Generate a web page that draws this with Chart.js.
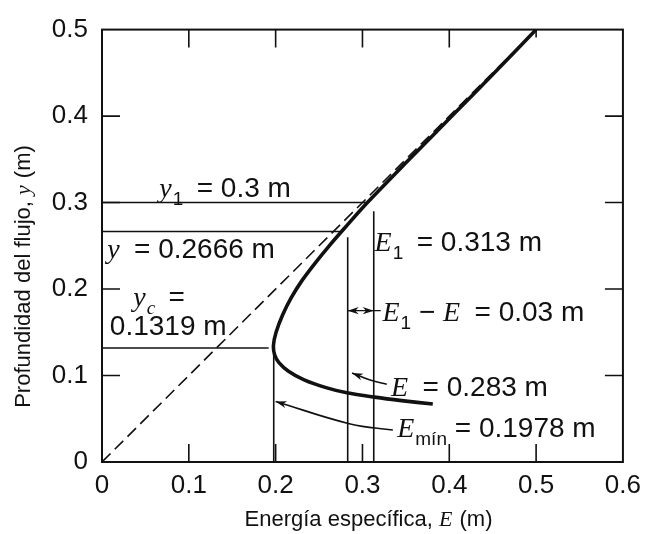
<!DOCTYPE html>
<html>
<head>
<meta charset="utf-8">
<script src="https://cdn.jsdelivr.net/npm/chart.js@4.4.0/dist/chart.umd.min.js"></script>
<style>
  html, body { margin: 0; padding: 0; background: #fff; }
  #wrap { width: 649px; height: 534px; }
</style>
</head>
<body>
<div id="wrap"><canvas id="c" width="649" height="534"></canvas></div>
<script>
const xTicks      = [0, 0.1, 0.2, 0.3, 0.4, 0.5, 0.6]
const xTickLabels = ['0', '0.1', '0.2', '0.3', '0.4', '0.5', '0.6']
const yTicks      = [0, 0.1, 0.2, 0.3, 0.4, 0.5]
const yTickLabels = ['0', '0.1', '0.2', '0.3', '0.4', '0.5']

// curva E(y) (rama inferior -> rama superior)
const curveE = [0.381, 0.345, 0.314, 0.282, 0.258, 0.2328, 0.2148, 0.2038, 0.1988, 0.1975, 0.2005, 0.208, 0.218, 0.2305, 0.2455, 0.2617, 0.279, 0.3057, 0.354, 0.403, 0.452, 0.5]
const curveY = [0.067, 0.071, 0.075, 0.080, 0.086, 0.095, 0.105, 0.115, 0.124, 0.135, 0.15, 0.17, 0.19, 0.21, 0.23, 0.25, 0.27, 0.3, 0.35, 0.4, 0.45, 0.5]

// recta E = y
const diagE = [0, 0.5]
const diagY = [0, 0.5]

// niveles horizontales y1, y, yc
const levelY   = [0.3, 0.2666, 0.1319]
const levelEnd = [0.306, 0.275, 0.192]

// verticales E1, E, Emin
const dropE   = [0.313, 0.283, 0.1978]
const dropTop = [0.29, 0.26, 0.125]

// flechas
const eminArrowE = [0.335, 0.286, 0.2]
const eminArrowY = [0.037, 0.044, 0.07]
const eArrowE    = [0.328, 0.308, 0.288]
const eArrowY    = [0.09, 0.095, 0.103]
const gapE       = [0.283, 0.313]
const gapTailE   = [0.313, 0.321]
const gapY       = 0.175

const SANS = '"Liberation Sans", Arial, sans-serif'
const SERIF = '"Liberation Serif", "Times New Roman", serif'

const pts = (xs, ys) => xs.map((x, i) => ({ x, y: ys[i] }))
const line = (data, extra) => Object.assign({
  data, showLine: true, pointRadius: 0, borderColor: '#111', borderWidth: 1.6, tension: 0
}, extra)

const datasets = [
  line(pts(curveE, curveY), { borderWidth: 3.6, tension: 0.3 }),
  line(pts(diagE, diagY), { borderWidth: 1.6, borderDash: [12, 6] }),
  ...levelY.map((y, i) => line([{ x: 0, y }, { x: levelEnd[i], y }])),
  ...dropE.map((x, i) => line([{ x, y: 0 }, { x, y: dropTop[i] }])),
  line(pts(eminArrowE, eminArrowY), { tension: 0.4, arrow: 'end' }),
  line(pts(eArrowE, eArrowY), { tension: 0.4, arrow: 'end' }),
  line(gapE.map(x => ({ x, y: gapY })), { borderWidth: 1.2, arrow: 'both' }),
  line(gapTailE.map(x => ({ x, y: gapY })), { borderWidth: 1.4 })
]

// etiquetas: trozos de texto con fuente sans o cursiva matematica
const it = t => ({ t, f: 'it' })
const sb = (t, f) => ({ t, f: f || 'sans', sub: true })
const tx = t => ({ t, f: 'sans' })
const EQ = '\u2009 = '
const notes = [
  { x: 0.066, y: 0.318, runs: [it('y'), sb('1'), tx(EQ + '0.3 m')] },
  { x: 0.006, y: 0.247, runs: [it('y'), tx(EQ + '0.2666 m')] },
  { x: 0.036, y: 0.192, runs: [it('y'), sb('c', 'it'), tx(EQ.trimEnd())] },
  { x: 0.009, y: 0.158, runs: [tx('0.1319 m')] },
  { x: 0.314, y: 0.255, runs: [it('E'), sb('1'), tx(EQ + '0.313 m')] },
  { x: 0.323, y: 0.175, runs: [it('E'), sb('1'), tx(' \u2212 '), it('E'), tx(EQ + '0.03 m')] },
  { x: 0.333, y: 0.088, runs: [it('E'), tx(EQ + '0.283 m')] },
  { x: 0.34,  y: 0.04,  runs: [it('E'), sb('mín'), tx(' = 0.1978 m')] }
]

function runFont(r, size) {
  const s = r.sub ? Math.round(size * 0.68) : size
  return r.f === 'it' ? `italic ${s}px ${SERIF}` : `${s}px ${SANS}`
}

function drawRuns(ctx, runs, x, y, size) {
  let cx = x
  runs.forEach(r => {
    ctx.font = runFont(r, size)
    ctx.fillText(r.t, cx, r.sub ? y + size * 0.28 : y)
    cx += ctx.measureText(r.t).width + (r.f === 'it' && !r.sub ? 1 : 0)
  })
  return cx - x
}

function runsWidth(ctx, runs, size) {
  return runs.reduce((w, r) => { ctx.font = runFont(r, size); return w + ctx.measureText(r.t).width }, 0)
}

const framePlugin = {
  id: 'frame',
  afterDatasetsDraw(chart) {
    const { ctx, chartArea: a, scales: { x, y } } = chart
    ctx.save()
    ctx.strokeStyle = '#111'
    ctx.lineWidth = 2
    ctx.strokeRect(a.left, a.top, a.right - a.left, a.bottom - a.top)
    ctx.lineWidth = 1.6
    ctx.beginPath()
    xTicks.slice(1, -1).forEach(v => {
      const px = x.getPixelForValue(v)
      ctx.moveTo(px, a.bottom); ctx.lineTo(px, a.bottom - 18)
      ctx.moveTo(px, a.top); ctx.lineTo(px, a.top + (v === 0.5 ? 8 : 18))
    })
    yTicks.slice(1, -1).forEach(v => {
      const py = y.getPixelForValue(v)
      ctx.moveTo(a.left, py); ctx.lineTo(a.left + 18, py)
      ctx.moveTo(a.right, py); ctx.lineTo(a.right - 18, py)
    })
    ctx.stroke()

    // puntas de flecha
    chart.data.datasets.forEach(ds => {
      if (!ds.arrow) return
      const d = ds.data.map(p => ({ x: x.getPixelForValue(p.x), y: y.getPixelForValue(p.y) }))
      const head = (tip, from) => {
        const ang = Math.atan2(tip.y - from.y, tip.x - from.x)
        const L = 11, W = 3.6
        ctx.beginPath()
        ctx.moveTo(tip.x, tip.y)
        ctx.lineTo(tip.x - L * Math.cos(ang) + W * Math.sin(ang), tip.y - L * Math.sin(ang) - W * Math.cos(ang))
        ctx.lineTo(tip.x - L * 0.7 * Math.cos(ang), tip.y - L * 0.7 * Math.sin(ang))
        ctx.lineTo(tip.x - L * Math.cos(ang) - W * Math.sin(ang), tip.y - L * Math.sin(ang) + W * Math.cos(ang))
        ctx.closePath()
        ctx.fillStyle = '#111'
        ctx.fill()
      }
      head(d[d.length - 1], d[d.length - 2])
      if (ds.arrow === 'both') head(d[0], d[1])
    })

    // textos dentro del grafico
    ctx.fillStyle = '#111'
    ctx.textBaseline = 'alphabetic'
    notes.forEach(n => {
      drawRuns(ctx, n.runs, x.getPixelForValue(n.x), y.getPixelForValue(n.y) + 10, 28)
    })

    // titulos de ejes
    const xt = [tx('Energía específica, '), it('E'), tx(' (m)')]
    const wx = runsWidth(ctx, xt, 22)
    drawRuns(ctx, xt, 368 - wx / 2, 526, 22)

    const yt = [tx('Profundidad del flujo, '), it('y'), tx(' (m)')]
    const wy = runsWidth(ctx, yt, 22)
    ctx.translate(30, 277)
    ctx.rotate(-Math.PI / 2)
    drawRuns(ctx, yt, -wy / 2, 0, 22)
    ctx.restore()
  }
}

new Chart(document.getElementById('c'), {
  type: 'scatter',
  data: { datasets },
  options: {
    responsive: false,
    animation: false,
    layout: { padding: { top: 22, right: 21, left: 0, bottom: 0 } },
    plugins: { legend: { display: false }, tooltip: { enabled: false } },
    scales: {
      x: {
        type: 'linear', min: 0, max: 0.6,
        afterBuildTicks: s => { s.ticks = xTicks.map(value => ({ value })) },
        afterFit: s => { s.height = 72 },
        ticks: {
          padding: 8, color: '#111', font: { family: SANS, size: 26 },
          callback: v => xTickLabels[xTicks.indexOf(+v.toFixed(1))]
        },
        grid: { display: false, drawTicks: false },
        border: { display: false }
      },
      y: {
        type: 'linear', min: 0, max: 0.5,
        afterBuildTicks: s => { s.ticks = yTicks.map(value => ({ value })) },
        afterFit: s => { s.width = 102 },
        ticks: {
          padding: 14, color: '#111', font: { family: SANS, size: 26 },
          callback: v => yTickLabels[yTicks.indexOf(+v.toFixed(1))]
        },
        grid: { display: false, drawTicks: false },
        border: { display: false }
      }
    }
  },
  plugins: [framePlugin]
})
</script>
</body>
</html>
